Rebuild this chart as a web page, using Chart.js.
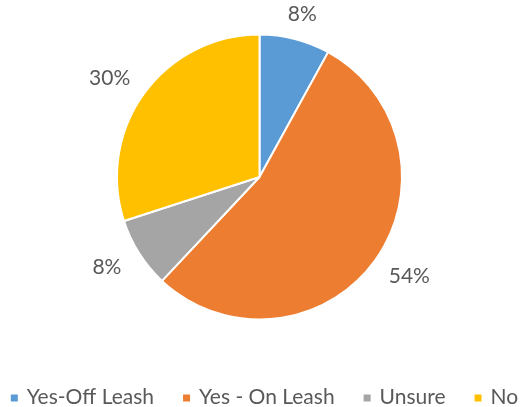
<!DOCTYPE html>
<html>
<head>
<meta charset="utf-8">
<script src="https://cdn.jsdelivr.net/npm/chart.js@4/dist/chart.umd.min.js"></script>
<style>
  html, body { margin: 0; padding: 0; background: #fff; }
  #wrap { width: 529px; height: 407px; position: relative; }
</style>
</head>
<body>
<div id="wrap"><canvas id="pieChart"></canvas></div>
<script>
const categories = ['Yes-Off Leash', 'Yes - On Leash', 'Unsure', 'No'];
const shares = [8, 54, 8, 30];
const sliceColors = ['#5B9BD5', '#ED7D31', '#A5A5A5', '#FFC000'];

const textColor = '#595959';
const fontFamily = 'Lato, "Open Sans", sans-serif';
const fontSize = 21;

// percent labels outside each slice
const outsideLabels = {
    id: 'outsideLabels',
    afterDatasetsDraw(chart) {
        const ctx = chart.ctx;
        const meta = chart.getDatasetMeta(0);
        ctx.save();
        ctx.font = fontSize + 'px ' + fontFamily;
        ctx.fillStyle = textColor;
        ctx.textAlign = 'center';
        ctx.textBaseline = 'middle';
        meta.data.forEach((arc, i) => {
            const mid = (arc.startAngle + arc.endAngle) / 2;
            const dx = Math.cos(mid), dy = Math.sin(mid);
            const txt = shares[i] + '%';
            const w = ctx.measureText(txt).width;
            const d = arc.outerRadius + 26;
            const x = arc.x + dx * d + dx * Math.abs(dx) * w / 2;
            const y = arc.y + dy * d;
            ctx.fillText(txt, x, y);
        });
        ctx.restore();
    }
};

// bottom legend with small square markers
const bottomLegend = {
    id: 'bottomLegend',
    afterDraw(chart) {
        const ctx = chart.ctx;
        ctx.save();
        ctx.font = fontSize + 'px ' + fontFamily;
        ctx.textBaseline = 'middle';
        const box = 7, gap = 9, spacing = 29;
        const widths = categories.map(c => ctx.measureText(c).width);
        let total = 0;
        widths.forEach((w, i) => { total += box + gap + w + (i < widths.length - 1 ? spacing : 0); });
        let x = (chart.width - total) / 2;
        const y = 397;
        categories.forEach((c, i) => {
            ctx.fillStyle = sliceColors[i];
            ctx.fillRect(x, y - box / 2 + 1, box, box);
            x += box + gap;
            ctx.fillStyle = textColor;
            ctx.fillText(c, x, y);
            x += widths[i] + spacing;
        });
        ctx.restore();
    }
};

new Chart(document.getElementById('pieChart'), {
    type: 'pie',
    data: {
        labels: categories,
        datasets: [{
            data: shares,
            backgroundColor: sliceColors,
            borderColor: '#ffffff',
            borderWidth: 2,
            hoverOffset: 0
        }]
    },
    options: {
        responsive: true,
        maintainAspectRatio: false,
        animation: false,
        layout: { padding: { top: 33, bottom: 86, left: 116, right: 126 } },
        plugins: {
            legend: { display: false },
            tooltip: { enabled: false }
        }
    },
    plugins: [outsideLabels, bottomLegend]
});
</script>
</body>
</html>
